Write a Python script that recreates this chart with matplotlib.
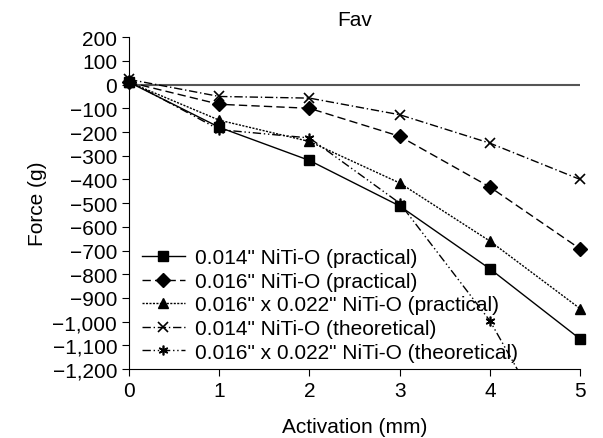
import matplotlib.pyplot as plt
from matplotlib.ticker import FuncFormatter

plt.rcParams['font.family'] = ['Liberation Sans', 'DejaVu Sans']

# Datos
activation = [0, 1, 2, 3, 4, 5]
sq_014_prac = [10, -180, -320, -512, -777, -1073]
dm_016_prac = [10, -83, -100, -218, -432, -693]
tr_016x022_prac = [10, -150, -240, -415, -660, -945]
x_014_theo = [22, -50, -57, -127, -247, -400]
st_016x022_theo = [15, -190, -225, -500, -996, -1670]

labels = ['0.014" NiTi-O (practical)',
          '0.016" NiTi-O (practical)',
          '0.016" x 0.022" NiTi-O (practical)',
          '0.014" NiTi-O (theoretical)',
          '0.016" x 0.022" NiTi-O (theoretical)']

fig = plt.figure(figsize=(6.03, 4.39), dpi=100, facecolor='white')
ax = fig.add_axes([0.214, 0.157, 0.748, 0.756])

ax.axhline(0, color='#555555', linewidth=1.5, zorder=1)

kw = dict(color='black', linewidth=1.0, markersize=7)
ax.plot(activation, sq_014_prac, marker='s', linestyle='-', label=labels[0],
        clip_on=False, **kw)
ax.plot(activation, dm_016_prac, marker='D', linestyle=(0, (6, 3)), label=labels[1],
        clip_on=False, **kw)
ax.plot(activation, tr_016x022_prac, marker='^', linestyle=(0, (1.5, 1)), label=labels[2],
        clip_on=False, **kw)
ax.plot(activation, x_014_theo, marker='x', linestyle=(0, (6, 2, 1, 2)), label=labels[3],
        markeredgewidth=1.2, clip_on=False, **kw)
ax.plot(activation, st_016x022_theo, marker=(6, 2, 0), linestyle=(0, (6, 2, 1, 2, 1, 2)),
        label=labels[4], markeredgewidth=1.2, clip_on=True, **kw)

ax.set_xlim(0, 5)
ax.set_ylim(-1200, 200)
ax.set_xticks(activation)
ax.set_yticks(range(-1200, 201, 100))
ax.yaxis.set_major_formatter(FuncFormatter(lambda v, p: f'{int(v):,}'.replace('-', '\u2212')))
ax.tick_params(direction='out', labelsize=15, length=5)

ax.spines['top'].set_visible(False)
ax.spines['right'].set_visible(False)

ax.set_title('Fav', fontsize=15, pad=9)
ax.set_xlabel('Activation (mm)', fontsize=15, labelpad=12)
ax.set_ylabel('Force (g)', fontsize=15)

ax.legend(loc='lower left', bbox_to_anchor=(0.0, -0.015), frameon=False, fontsize=15,
          handlelength=2.1, labelspacing=0.22, handletextpad=0.45, borderaxespad=0.2)

fig.savefig('out.png', dpi=100, facecolor='white')
